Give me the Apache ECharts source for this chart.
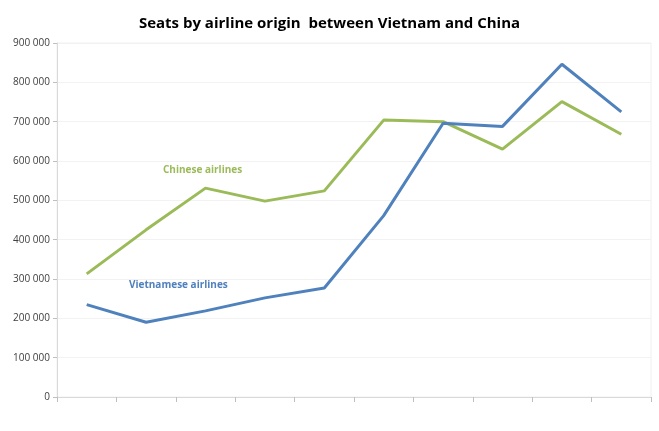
<!DOCTYPE html>
<html>
<head>
<meta charset="utf-8">
<script src="https://cdn.jsdelivr.net/npm/echarts@6/dist/echarts.min.js"></script>
<style>
  html, body { margin: 0; padding: 0; background: #fff; }
  #chart { width: 659px; height: 431px; }
</style>
</head>
<body>
<div id="chart"></div>
<script>
  // unlabeled periods on the x axis
  var categories = ['1', '2', '3', '4', '5', '6', '7', '8', '9', '10']
  var chineseSeats = [313000, 425000, 531000, 498000, 524000, 704000, 700000, 630000, 751000, 668000]
  var vietnameseSeats = [235000, 190000, 219000, 252000, 277000, 461000, 696000, 688000, 846000, 725000]
  var yTicks = [0, 100000, 200000, 300000, 400000, 500000, 600000, 700000, 800000, 900000]

  var green = '#9bbb59'
  var blue = '#4f81bd'
  var font = 'Open Sans'

  function fmt(v) {
    return String(v).replace(/\B(?=(\d{3})+(?!\d))/g, ' ')
  }

  var chart = echarts.init(document.getElementById('chart'))
  chart.setOption({
    animation: false,
    title: {
      text: 'Seats by airline origin  between Vietnam and China',
      left: 'center',
      top: 11,
      textStyle: { fontFamily: font, fontSize: 15, fontWeight: 'bold', color: '#000' }
    },
    grid: {
      left: 57, right: 8, top: 43, bottom: 34,
      show: true, borderColor: '#f0f0f0', borderWidth: 1
    },
    xAxis: {
      type: 'category',
      data: categories,
      boundaryGap: true,
      axisLine: { lineStyle: { color: '#d9d9d9', width: 1 } },
      axisTick: { show: true, alignWithLabel: false, length: 5, lineStyle: { color: '#bfbfbf' } },
      axisLabel: { show: false },
      splitLine: { show: false }
    },
    yAxis: {
      type: 'value',
      min: yTicks[0],
      max: yTicks[yTicks.length - 1],
      interval: 100000,
      axisLine: { show: true, lineStyle: { color: '#d9d9d9' } },
      axisTick: { show: true, length: 4, lineStyle: { color: '#bfbfbf' } },
      axisLabel: {
        formatter: fmt, margin: 7,
        fontFamily: font, fontSize: 10, color: '#404040'
      },
      splitLine: { lineStyle: { color: '#f2f2f2' } }
    },
    series: [
      {
        name: 'Chinese airlines',
        type: 'line',
        data: chineseSeats,
        showSymbol: false,
        lineStyle: { color: green, width: 3 },
        itemStyle: { color: green }
      },
      {
        name: 'Vietnamese airlines',
        type: 'line',
        data: vietnameseSeats,
        showSymbol: false,
        lineStyle: { color: blue, width: 3 },
        itemStyle: { color: blue }
      }
    ],
    graphic: [
      {
        type: 'text', left: 163, top: 165,
        style: { text: 'Chinese airlines', fill: green, font: 'bold 10px "Open Sans"' }
      },
      {
        type: 'text', left: 129, top: 280,
        style: { text: 'Vietnamese airlines', fill: blue, font: 'bold 10px "Open Sans"' }
      }
    ]
  })
</script>
</body>
</html>
